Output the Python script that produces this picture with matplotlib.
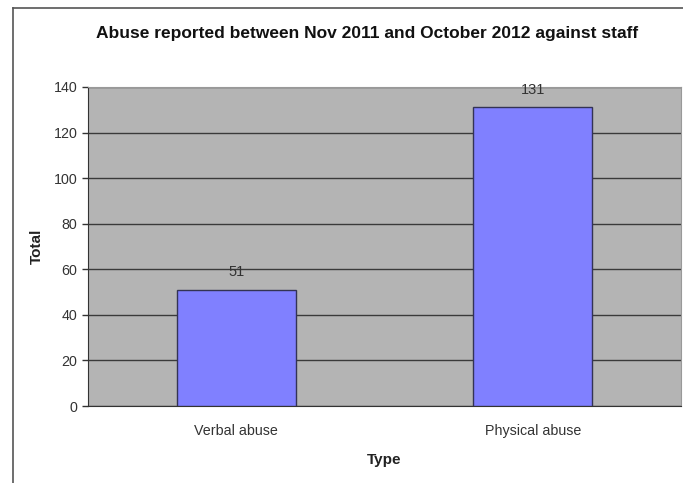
import matplotlib.pyplot as plt
from matplotlib.lines import Line2D

categories = ['Verbal abuse', 'Physical abuse']
totals = [51, 131]
y_ticks = [0, 20, 40, 60, 80, 100, 120, 140]

plt.rcParams['font.family'] = ['Liberation Sans', 'DejaVu Sans']

fig = plt.figure(figsize=(6.83, 4.83), dpi=100)
ax = fig.add_axes([0.1288, 0.1594, 0.997 - 0.1288, 0.8199 - 0.1594])

# outer chart frame, cut off on the right and at the bottom
fig.add_artist(Line2D([0.019, 0.019], [0.0, 0.984], color='#555555', lw=1.2))
fig.add_artist(Line2D([0.019, 1.0], [0.984, 0.984], color='#555555', lw=1.2))

ax.set_facecolor('#b4b4b4')
x = range(len(categories))
bars = ax.bar(x, totals, width=0.4, color='#8080ff', edgecolor='#333355', linewidth=1, zorder=3)
for b, v in zip(bars, totals):
    ax.annotate(str(v), (b.get_x() + b.get_width() / 2, v), xytext=(0, 7.5),
                textcoords='offset points', ha='center', va='bottom',
                fontsize=10.5, color='#333333')

ax.set_xlim(-0.5, 1.5)
ax.set_ylim(0, 140)
ax.set_yticks(y_ticks)
ax.set_xticks(list(x))
ax.set_xticklabels(categories)
ax.grid(axis='y', color='#3a3a3a', linewidth=1, zorder=1)
ax.set_axisbelow(True)
ax.tick_params(axis='y', direction='out', length=4, colors='#333333', labelsize=10.3, width=1)
ax.tick_params(axis='x', length=0, colors='#333333', labelsize=10.3, pad=13)
for s in ['top', 'right']:
    ax.spines[s].set_color('#999999')
    ax.spines[s].set_linewidth(0.8)
for s in ['left', 'bottom']:
    ax.spines[s].set_color('#333333')

ax.set_ylabel('Total', fontsize=11, fontweight='bold', labelpad=7, color='#222222')
ax.set_xlabel('Type', fontsize=11, fontweight='bold', labelpad=11, color='#222222')
fig.text(0.537, 0.93, 'Abuse reported between Nov 2011 and October 2012 against staff',
         ha='center', va='center', fontsize=12.5, fontweight='bold', color='#111111')

fig.savefig('out.png', dpi=100)
